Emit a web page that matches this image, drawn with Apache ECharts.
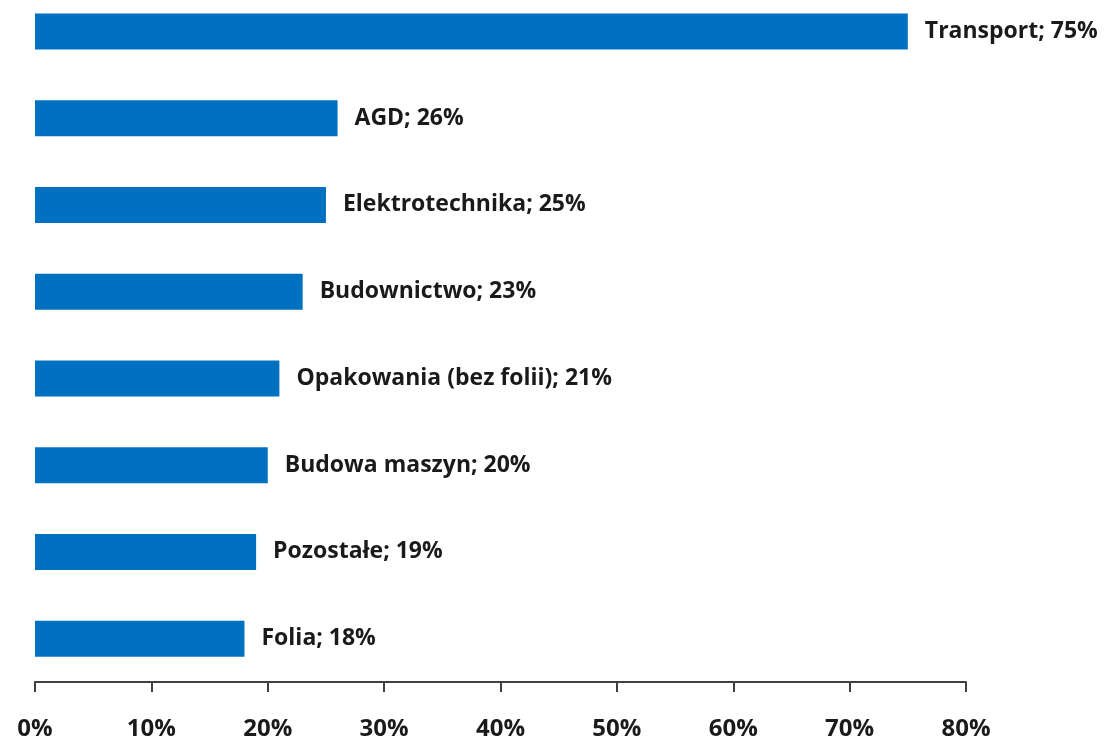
<!DOCTYPE html>
<html>
<head>
<meta charset="utf-8">
<script src="https://cdn.jsdelivr.net/npm/echarts@6/dist/echarts.min.js"></script>
<style>
  html, body { margin: 0; padding: 0; background: #fff; overflow: hidden; }
  /* chart is shifted up a little: the top bar sits closer to the edge than grid.top: 0 allows */
  #chart { position: absolute; left: 0; top: -12px; width: 1106px; height: 754px; }
</style>
</head>
<body>
<div id="chart"></div>
<script>
const categories = ['Transport', 'AGD', 'Elektrotechnika', 'Budownictwo', 'Opakowania (bez folii)', 'Budowa maszyn', 'Pozostałe', 'Folia']
const values = [75, 26, 25, 23, 21, 20, 19, 18]
const xTicks = [0, 10, 20, 30, 40, 50, 60, 70, 80]

const chart = echarts.init(document.getElementById('chart'))

const option = {
  animation: false,
  grid: {
    left: 35,
    right: 140,
    top: 0,
    bottom: 60,
  },
  xAxis: {
    type: 'value',
    min: xTicks[0],
    max: xTicks[xTicks.length - 1],
    interval: 10,
    axisLine: { show: true, lineStyle: { color: '#404040', width: 2 } },
    axisTick: { show: true, length: 10, lineStyle: { color: '#404040', width: 2 } },
    splitLine: { show: false },
    axisLabel: {
      formatter: '{value}%',
      color: '#1a1a1a',
      fontFamily: 'Open Sans',
      fontWeight: 'bold',
      fontSize: 24,
      margin: 35,
    },
  },
  yAxis: {
    type: 'category',
    data: categories,
    inverse: true,
    show: false,
  },
  series: [
    {
      type: 'bar',
      data: values,
      barWidth: 36,
      itemStyle: { color: '#0070c0' },
      label: {
        show: true,
        position: 'right',
        distance: 17,
        formatter: '{b}; {c}%',
        color: '#1a1a1a',
        fontFamily: 'Open Sans',
        fontWeight: 'bold',
        fontSize: 23,
      },
    },
  ],
}

chart.setOption(option)
</script>
</body>
</html>
